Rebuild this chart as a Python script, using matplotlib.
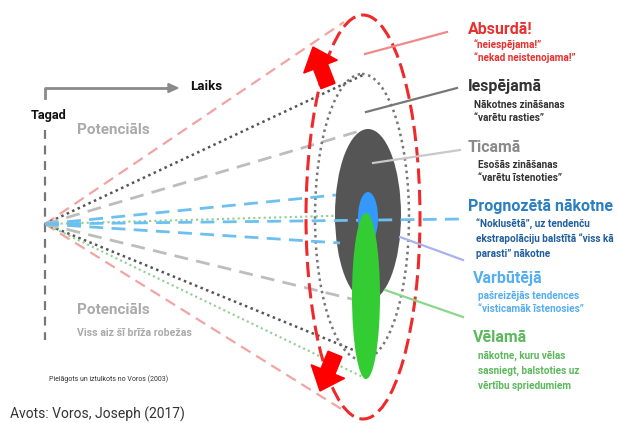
import matplotlib.pyplot as plt
from matplotlib.patches import Ellipse

# Pixel-space diagram (origin top-left)
origin = (45, 224)

# ellipses: (cx, cy, half_w, half_h)
ell_absurd = (363, 217, 57, 202)
ell_possible = (362, 217, 47, 143)
ell_plausible = (368, 215, 33, 86)
ell_projected = (368, 218, 10, 26)
ell_preferable = (366, 296, 14, 83)

# cone line end points
cone_red = [(344, 22), (343, 410)]
cone_dark = [(363, 75), (368, 356)]
cone_grey = [(363, 130), (356, 300)]
cone_blue = [(336, 195), (463, 219), (340, 243)]
cone_green = [(362, 215), (365, 378)]

# leader lines
leaders = [((365, 54), (447, 32), '#f08a8a'),
           ((366, 112), (457, 88), '#777777'),
           ((373, 163), (460, 150), '#c8c8c8'),
           ((400, 237), (463, 260), '#aab2ee'),
           ((385, 290), (463, 317), '#8ad88a')]

titles = ['Absurdā!', 'Iespējamā', 'Ticamā', 'Prognozētā nākotne', 'Varbūtējā', 'Vēlamā']
title_xy = [(468, 30), (468, 86), (468, 147), (468, 206), (473, 278), (473, 337)]
title_col = ['#e8312f', '#333333', '#8a8a8a', '#2a7fc1', '#55aef0', '#5cb85c']
notes = [['“neiespējama!”', '“nekad neistenojama!”'],
         ['Nākotnes zināšanas', '“varētu rasties”'],
         ['Esošās zināšanas', '“varētu īstenoties”'],
         ['“Noklusētā”, uz tendenču', 'ekstrapolāciju balstītā “viss kā', 'parasti” nākotne'],
         ['pašreizējās tendences', '“visticamāk īstenosies”'],
         ['nākotne, kuru vēlas', 'sasniegt, balstoties uz', 'vērtību spriedumiem']]
note_xy = [(474, 45), (474, 105), (478, 165), (476, 224), (478, 296), (478, 356)]
note_col = ['#e8312f', '#333333', '#333333', '#1f5f9e', '#55aef0', '#5cb85c']
note_step = [13, 13, 13, 15, 13, 15]

plt.rcParams['font.family'] = ['Roboto', 'DejaVu Sans']
fig = plt.figure(figsize=(6.19, 4.23), dpi=100)
ax = fig.add_axes([0, 0, 1, 1])
ax.set_xlim(0, 619)
ax.set_ylim(423, 0)
ax.axis('off')

def ell(e, **kw):
    cx, cy, hw, hh = e
    ax.add_patch(Ellipse((cx, cy), 2 * hw, 2 * hh, **kw))

# cone lines
ox, oy = origin
for x, y in cone_red:
    ax.plot([ox, x], [oy, y], color='#f4a3a3', lw=1.6, dashes=(5, 3), zorder=1)
for x, y in cone_dark:
    ax.plot([ox, x], [oy, y], color='#555555', lw=1.8, dashes=(1, 1.4), zorder=1)
for x, y in cone_grey:
    ax.plot([ox, x], [oy, y], color='#bdbdbd', lw=2, dashes=(5, 3), zorder=1)
for x, y in cone_blue:
    ax.plot([ox, x], [oy, y], color='#6cc0f0', lw=2, dashes=(5, 3), zorder=3)
for x, y in cone_green:
    ax.plot([ox, x], [oy, y], color='#8fce8f', lw=1.5, dashes=(1, 1.5), zorder=1)

# time axis
ax.plot([45, 45], [130, 340], color='#777777', lw=1.6, dashes=(4, 3))
ax.plot([45, 45, 168], [98, 88, 88], color='#8a8a8a', lw=2)
ax.arrow(166, 88, 12, 0, width=0.1, head_width=9, head_length=10, color='#8a8a8a',
         length_includes_head=True)
ax.text(31, 116, 'Tagad', fontsize=9.2, fontweight='bold', color='#111111', va='center')
ax.text(190, 87, 'Laiks', fontsize=9.5, fontweight='bold', color='#111111', va='center')
ax.text(77, 130, 'Potenciāls', fontsize=11, fontweight='bold', color='#aaaaaa', va='center')
ax.text(77, 310, 'Potenciāls', fontsize=11, fontweight='bold', color='#aaaaaa', va='center')
ax.text(77, 333, 'Viss aiz šī brīža robežas', fontsize=7.6, fontweight='bold', color='#aaaaaa',
        va='center')
ax.text(49, 379, 'Pielāgots un iztulkots no Voros (2003)', fontsize=5, color='#333333',
        va='center')
ax.text(10, 414, 'Avots: Voros, Joseph (2017)', fontsize=10, color='#333333', va='center')

# ellipses
ell(ell_plausible, facecolor='#555555', edgecolor='none', zorder=2)
ell(ell_projected, facecolor='#3399ff', edgecolor='none', zorder=4)
ell(ell_preferable, facecolor='#33cc33', edgecolor='none', zorder=5)
ell(ell_possible, facecolor='none', edgecolor='#777777', lw=1.8, linestyle=(0, (1, 1.5)), zorder=2)
ell(ell_absurd, facecolor='none', edgecolor='#ee2a2a', lw=2.2, linestyle=(0, (5, 2)), zorder=2)

# big red arrows
ax.arrow(328, 86, -15, -39, width=15, head_width=36, head_length=21, color='#ff0000',
         length_includes_head=True, zorder=6)
ax.arrow(335, 354, -15, 37, width=15, head_width=36, head_length=21, color='#ff0000',
         length_includes_head=True, zorder=6)

# leaders
for (x0, y0), (x1, y1), c in leaders:
    ax.plot([x0, x1], [y0, y1], color=c, lw=1.6, zorder=7)

# labels
for t, (x, y), c in zip(titles, title_xy, title_col):
    ax.text(x, y, t, fontsize=11.5, fontweight='bold', color=c, va='center')
for lines, (x, y), c, st in zip(notes, note_xy, note_col, note_step):
    for i, s in enumerate(lines):
        ax.text(x, y + i * st, s, fontsize=7.2, fontweight='bold', color=c, va='center')

fig.savefig('out.png', dpi=100)
